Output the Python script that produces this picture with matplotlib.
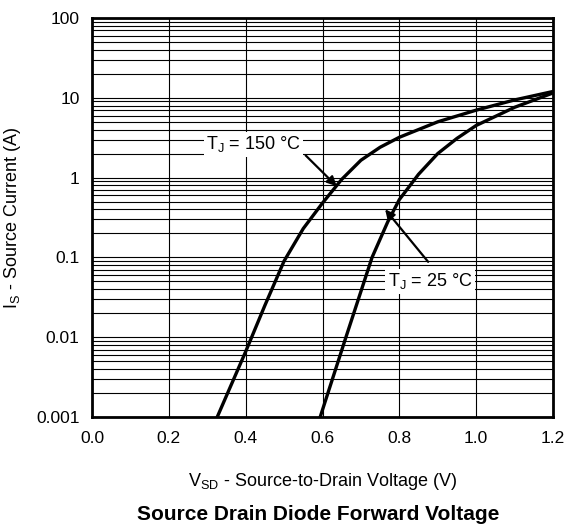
import numpy as np
import matplotlib
matplotlib.use("Agg")
from matplotlib import pyplot as plt
from matplotlib.ticker import FixedLocator, FixedFormatter, LogLocator, NullFormatter

plt.rcParams['font.family'] = ['Liberation Sans', 'DejaVu Sans']
plt.rcParams['mathtext.fontset'] = 'custom'
plt.rcParams['mathtext.rm'] = 'Liberation Sans'

# curve
v_25 = [0.594, 0.661, 0.729, 0.77, 0.80, 0.85, 0.90, 0.95, 1.00, 1.10, 1.20]
i_25 = [0.001, 0.01, 0.1, 0.28, 0.53, 1.1, 2.0, 3.1, 4.5, 7.6, 11.5]

v_150 = [0.326, 0.40, 0.45, 0.50, 0.55, 0.60, 0.65, 0.70, 0.75, 0.80, 0.90, 1.00, 1.10, 1.20]
i_150 = [0.001, 0.0066, 0.025, 0.09, 0.23, 0.48, 0.95, 1.65, 2.4, 3.2, 5.0, 7.0, 9.4, 12.0]

x_ticks = [0.0, 0.2, 0.4, 0.6, 0.8, 1.0, 1.2]
x_labels = ['0.0', '0.2', '0.4', '0.6', '0.8', '1.0', '1.2']
y_ticks = [0.001, 0.01, 0.1, 1, 10, 100]
y_labels = ['0.001', '0.01', '0.1', '1', '10', '100']


def main():
    fig = plt.figure(figsize=(5.66, 5.27), dpi=100)
    ax = fig.add_axes([92 / 566, 1 - 417 / 527, (553 - 92) / 566, (417 - 18) / 527])

    ax.set_yscale('log')
    ax.set_xlim(0, 1.2)
    ax.set_ylim(0.001, 100)

    ax.xaxis.set_major_locator(FixedLocator(x_ticks))
    ax.xaxis.set_major_formatter(FixedFormatter(x_labels))
    ax.yaxis.set_major_locator(FixedLocator(y_ticks))
    ax.yaxis.set_major_formatter(FixedFormatter(y_labels))
    ax.yaxis.set_minor_locator(LogLocator(base=10, subs=np.arange(2, 10), numticks=20))
    ax.yaxis.set_minor_formatter(NullFormatter())

    ax.grid(True, which='major', color='black', lw=0.8)
    ax.grid(True, which='minor', axis='y', color='black', lw=0.8)
    ax.set_axisbelow(True)
    ax.tick_params(which='both', length=0, labelsize=12.5, colors='black')
    ax.tick_params(axis='x', pad=10)
    ax.tick_params(axis='y', pad=9)

    for s in ax.spines.values():
        s.set_linewidth(2)

    ax.plot(v_25, i_25, color='black', lw=2.4, zorder=3)
    ax.plot(v_150, i_150, color='black', lw=2.4, zorder=3)

    box = dict(boxstyle='square,pad=0.12', fc='white', ec='none')
    arr = dict(arrowstyle='-|>', color='black', lw=1.6, mutation_scale=14,
               shrinkA=0, shrinkB=0)
    ax.annotate(r'T$_\mathregular{J}$ = 150 °C', xy=(0.637, 0.78), xytext=(0.42, 2.6),
                fontsize=13, ha='center', va='center', bbox=box, zorder=4)
    ax.annotate('', xy=(0.637, 0.78), xytext=(0.556, 1.9), arrowprops=arr, zorder=4)
    ax.annotate(r'T$_\mathregular{J}$ = 25 °C', xy=(0.763, 0.4), xytext=(0.88, 0.05),
                fontsize=13, ha='center', va='center', bbox=box, zorder=4)
    ax.annotate('', xy=(0.763, 0.4), xytext=(0.875, 0.088), arrowprops=arr, zorder=4)

    ax.set_xlabel(r'V$_\mathregular{SD}$ - Source-to-Drain Voltage (V)', fontsize=13, labelpad=18)
    ax.set_ylabel(r'I$_\mathregular{S}$ - Source Current (A)', fontsize=13, labelpad=9)

    fig.text(318 / 566, 1 - 515 / 527, 'Source Drain Diode Forward Voltage',
             ha='center', va='center', fontsize=15, fontweight='bold')

    fig.savefig('out.png', dpi=100)


if __name__ == '__main__':
    main()
